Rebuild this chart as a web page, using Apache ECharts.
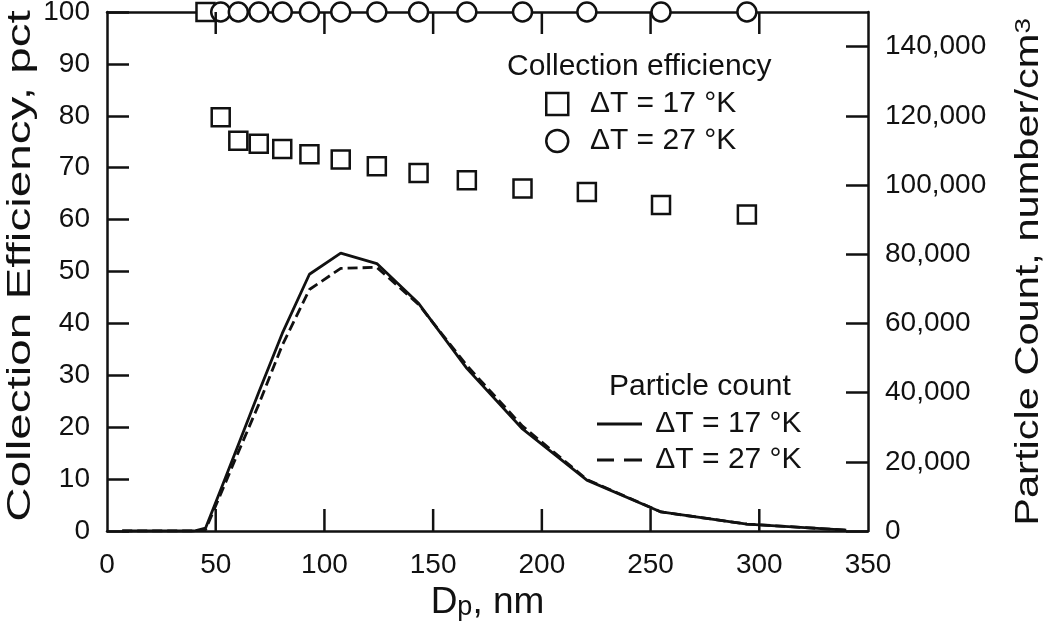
<!DOCTYPE html>
<html><head><meta charset="utf-8">
<script src="https://cdn.jsdelivr.net/npm/echarts@6/dist/echarts.min.js"></script>
<style>html,body{margin:0;padding:0;background:#fff}#c{width:1050px;height:640px}</style>
</head><body><div id="c"></div>
<script>
// Collection efficiency (left axis, pct)
const dpCE17 = [45.3, 52.3, 60.4, 69.8, 80.6, 93.1, 107.5, 124.1, 143.3, 165.5, 191.1, 220.7, 254.8, 294.3];
const ce17   = [100, 79.7, 75.2, 74.6, 73.6, 72.6, 71.6, 70.3, 69.0, 67.6, 66.0, 65.3, 62.8, 61.0];
const dpCE27 = [52.3, 60.4, 69.8, 80.6, 93.1, 107.5, 124.1, 143.3, 165.5, 191.1, 220.7, 254.8, 294.3];
const ce27   = [100, 100, 100, 100, 100, 100, 100, 100, 100, 100, 100, 100, 100];
// Particle count (right axis, number/cm3)
const dpPC  = [7, 40, 45.3, 52.3, 60.4, 69.8, 80.6, 93.1, 107.5, 124.1, 143.3, 165.5, 191.1, 220.7, 254.8, 294.3, 340];
const pc17  = [0, 0, 800, 11900, 24900, 40100, 57100, 74200, 80300, 77300, 65800, 47000, 29500, 14700, 5500, 2000, 250];
const pc27  = [0, 0, 300, 10700, 22800, 36600, 53700, 69800, 75900, 76200, 65500, 47800, 30300, 14900, 5500, 2000, 250];
// Tick labels / values
const xTickLabels = ['0', '50', '100', '150', '200', '250', '300', '350'];
const xInnerTicks = [50, 100, 150, 200, 250, 300];
const leftTickLabels = ['0', '10', '20', '30', '40', '50', '60', '70', '80', '90', '100'];
const rightTickLabels = ['0', '20,000', '40,000', '60,000', '80,000', '100,000', '120,000', '140,000'];
const seriesLabels = { ce17: 'ΔT = 17 °K', ce27: 'ΔT = 27 °K', pc17: 'ΔT = 17 °K', pc27: 'ΔT = 27 °K' };

const FF = '"Liberation Sans", Arial, sans-serif';
const INK = '#111';
const zip = (a, b) => a.map((v, i) => [v, b[i]]);

const chart = echarts.init(document.getElementById('c'), null, { renderer: 'canvas' });
const mkLine = () => ({ show: true, onZero: false, lineStyle: { color: INK, width: 2.5 } });
const mkTick = (show) => ({ show, inside: true, length: 22, lineStyle: { color: INK, width: 2.5 } });

chart.setOption({
  animation: false,
  backgroundColor: '#fff',
  grid: { left: 107, right: 182, top: 12, bottom: 109, outerBoundsMode: 'none', containLabel: false },
  xAxis: [
    { type: 'value', position: 'bottom', min: 0, max: 350, interval: 50,
      axisLine: mkLine(), axisTick: mkTick(false), splitLine: { show: false },
      axisLabel: { margin: 20, fontFamily: FF, fontSize: 28, color: INK,
        formatter: v => xTickLabels[Math.round(v / 50)] ?? '' },
      name: 'D{sub|p}, nm', nameLocation: 'middle', nameGap: 52,
      nameTextStyle: { fontFamily: FF, fontSize: 37, color: INK, lineHeight: 37,
        rich: { sub: { fontFamily: FF, fontSize: 27, color: INK, lineHeight: 16, verticalAlign: 'bottom' } } } },
    { type: 'value', position: 'top', min: 0, max: 350, interval: 50,
      axisLine: mkLine(), axisTick: mkTick(false), splitLine: { show: false },
      axisLabel: { show: false } }
  ],
  yAxis: [
    { type: 'value', position: 'left', min: 0, max: 100, interval: 10,
      axisLine: mkLine(), axisTick: mkTick(true), splitLine: { show: false },
      axisLabel: { margin: 17, fontFamily: FF, fontSize: 28, color: INK,
        formatter: v => leftTickLabels[Math.round(v / 10)] ?? '' } },
    { type: 'value', position: 'right', min: 0, max: 150000, interval: 20000,
      axisLine: mkLine(), axisTick: mkTick(true), splitLine: { show: false },
      axisLabel: { margin: 17, fontFamily: FF, fontSize: 28, color: INK, showMaxLabel: false,
        formatter: v => (v % 20000 === 0 ? (rightTickLabels[v / 20000] ?? '') : '') } }
  ],
  legend: [
    { orient: 'vertical', left: 545, top: 89, padding: 0, itemWidth: 22, itemHeight: 22, itemGap: 7,
      selectedMode: false, data: ['ce17', 'ce27'],
      formatter: n => '  ' + seriesLabels[n],
      textStyle: { fontFamily: FF, fontSize: 30, color: INK, lineHeight: 30 },
      itemStyle: { color: '#fff', borderColor: INK, borderWidth: 2.5, opacity: 1 } },
    { orient: 'vertical', left: 597, top: 409, padding: 0, itemWidth: 45, itemHeight: 14, itemGap: 6,
      selectedMode: false,
      data: [
        { name: 'pc17', icon: 'path://M0,0h45v3h-45z' },
        { name: 'pc27', icon: 'path://M0,0h17v3h-17zM27,0h18v3h-18z' }
      ],
      formatter: n => ' ' + seriesLabels[n],
      textStyle: { fontFamily: FF, fontSize: 30, color: INK, lineHeight: 30 },
      itemStyle: { color: INK, borderWidth: 0, opacity: 1 } }
  ],
  graphic: [
    { type: 'text', id: 'legTitle1', left: 507, top: 52, z: 10,
      style: { text: 'Collection efficiency', fontFamily: FF, fontSize: 30, fill: INK } },
    { type: 'text', id: 'legTitle2', left: 609, top: 372, z: 10,
      style: { text: 'Particle count', fontFamily: FF, fontSize: 30, fill: INK } },
    { type: 'text', id: 'yNameL', x: 21, y: 266, rotation: Math.PI / 2, scaleX: 1.40, z: 10,
      style: { text: 'Collection Efficiency, pct', fontFamily: FF, fontSize: 34, fill: INK,
        align: 'center', verticalAlign: 'middle' } },
    { type: 'text', id: 'yNameR', x: 1029, y: 272, rotation: Math.PI / 2, scaleX: 1.26, z: 10,
      style: { text: 'Particle Count, number/cm{sup|3}', fontFamily: FF, fontSize: 33, fill: INK,
        lineHeight: 33, align: 'center', verticalAlign: 'middle',
        rich: { sup: { fontFamily: FF, fontSize: 22, fill: INK, lineHeight: 20, verticalAlign: 'top' } } } }
  ],
  series: [
    { name: 'pc17', type: 'line', xAxisIndex: 0, yAxisIndex: 1, data: zip(dpPC, pc17),
      symbol: 'none', lineStyle: { color: INK, width: 2.8, type: 'solid' }, itemStyle: { color: INK }, z: 2 },
    { name: 'pc27', type: 'line', xAxisIndex: 0, yAxisIndex: 1, data: zip(dpPC, pc27),
      symbol: 'none', lineStyle: { color: INK, width: 2.8, type: [10, 5] }, itemStyle: { color: INK }, z: 2 },
    { name: 'ce17', type: 'scatter', xAxisIndex: 0, yAxisIndex: 0, data: zip(dpCE17, ce17),
      symbol: 'rect', symbolSize: 18, clip: false,
      itemStyle: { color: '#fff', borderColor: INK, borderWidth: 2.5, opacity: 1 }, z: 3 },
    { name: 'ce27', type: 'scatter', xAxisIndex: 0, yAxisIndex: 0, data: zip(dpCE27, ce27),
      symbol: 'circle', symbolSize: 19, clip: false,
      itemStyle: { color: '#fff', borderColor: INK, borderWidth: 2.5, opacity: 1 }, z: 4 },
    // inner x-axis ticks at bottom and top, placed through the axis scales
    { name: 'xticks', type: 'custom', xAxisIndex: 0, yAxisIndex: 0, silent: true, clip: false, z: 5,
      data: xInnerTicks.map(v => [v, 0]),
      encode: { x: 0, y: 1 },
      renderItem: (params, api) => {
        const v = api.value(0);
        const b = api.coord([v, 0]);
        const t = api.coord([v, 100]);
        return { type: 'group', children: [
          { type: 'line', shape: { x1: b[0], y1: b[1], x2: b[0], y2: b[1] - 22 }, style: { stroke: INK, lineWidth: 2.5 } },
          { type: 'line', shape: { x1: t[0], y1: t[1], x2: t[0], y2: t[1] + 22 }, style: { stroke: INK, lineWidth: 2.5 } }
        ] };
      } }
  ]
});
</script></body></html>
